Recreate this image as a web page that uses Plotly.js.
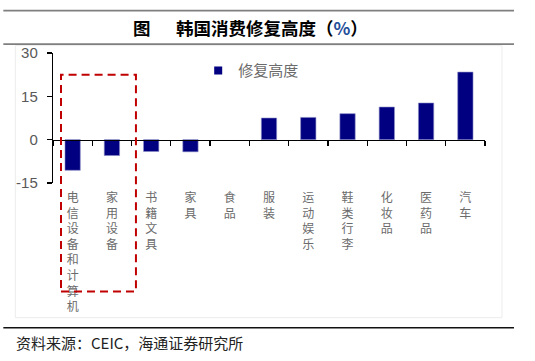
<!DOCTYPE html>
<html>
<head>
<meta charset="utf-8">
<script src="https://cdn.plot.ly/plotly-3.0.1.min.js"></script>
<style>
html,body{margin:0;padding:0;background:#fff;}
#chart{width:535px;height:361px;}
</style>
</head>
<body>
<div id="chart"></div>
<script>
const categories = ['电信设备和计算机','家用设备','书籍文具','家具','食品','服装','运动娱乐','鞋类行李','化妆品','医药品','汽车'];
const values = [-10.6,-5.5,-4.1,-4.2,0,7.5,7.7,9.0,11.3,12.7,23.4];
const yTicks = [-15,0,15,30];
const seriesName = '修复高度';
const titleText = '<b>图　&nbsp;&nbsp;韩国消费修复高度（<span style="color:#1f4e99">%</span>）</b>';
const sourceText = '资料来源：CEIC，海通证券研究所';

const vertLabels = categories.map(c => c.split('').join('<br>'));
const CJK = '"Noto Sans CJK SC", "Noto Sans", sans-serif';
const NAVY = '#000080';

const traces = [
  {
    type: 'bar', x: categories, y: values, xaxis: 'x', yaxis: 'y',
    marker: {color: NAVY, line: {color: '#8f8fc8', width: values.map(v => v === 0 ? 0 : 0.6)}},
    showlegend: false, hoverinfo: 'x+y'
  },
  {
    type: 'scatter', mode: 'markers', x: categories, y: categories.map(() => null),
    xaxis: 'x2', yaxis: 'y', showlegend: false, hoverinfo: 'skip'
  },
  {
    type: 'scatter', mode: 'markers', x: [null], y: [null], name: seriesName,
    marker: {symbol: 'square', size: 8, color: NAVY}, showlegend: true
  }
];

// plot area: left 52.7, right 485, top 53.3, bottom 183.3
const L = 52.7, R = 485, T = 53.3, B = 183.3;
const pw = R - L, ph = B - T;
const px = v => (v - L) / pw;
const py = v => (B - v) / ph;

const layout = {
  width: 535, height: 361,
  margin: {l: L, r: 535 - R, t: T, b: 361 - B, pad: 0},
  paper_bgcolor: '#fff', plot_bgcolor: 'rgba(0,0,0,0)',
  bargap: 0.61,
  title: {
    text: titleText, font: {family: CJK, size: 17.5, color: '#000'},
    x: 0.468, xanchor: 'center', xref: 'container',
    y: 1 - 29 / 361, yanchor: 'middle', yref: 'container'
  },
  xaxis: {
    type: 'category', categoryorder: 'array', categoryarray: categories,
    range: [-0.5, categories.length - 0.5],
    tickvals: categories, ticktext: vertLabels,
    showline: false, ticks: '', showgrid: false, zeroline: false,
    tickfont: {family: CJK, size: 12, color: '#6b6b6b'},
    ticklabelstandoff: 6, tickangle: 0
  },
  xaxis2: {
    type: 'category', categoryorder: 'array', categoryarray: categories,
    range: [-0.5, categories.length - 0.5],
    overlaying: 'x', anchor: 'free', position: 1 / 3, side: 'bottom',
    showline: true, linecolor: '#000', linewidth: 1.2,
    ticks: 'outside', ticklen: 5, tickwidth: 1.2, tickcolor: '#000', tickson: 'boundaries',
    showticklabels: false, showgrid: false, zeroline: false
  },
  yaxis: {
    range: [-15, 30], tickvals: yTicks, ticktext: yTicks.map(String),
    showline: true, linecolor: '#000', linewidth: 1.2,
    ticks: 'outside', ticklen: 5, tickwidth: 1.2, tickcolor: '#000',
    showgrid: false, zeroline: false,
    tickfont: {family: '"Liberation Sans", Arial, sans-serif', size: 15, color: '#595959'},
    ticklabelstandoff: 6
  },
  legend: {
    x: px(198), xanchor: 'left', y: py(71), yanchor: 'middle',
    bgcolor: 'rgba(0,0,0,0)', borderwidth: 0,
    font: {family: CJK, size: 15, color: '#6b6b6b'}
  },
  shapes: [
    {type: 'line', xref: 'paper', yref: 'paper', x0: px(3), x1: px(514), y0: py(11), y1: py(11), line: {color: '#7f7f7f', width: 1.8}},
    {type: 'line', xref: 'paper', yref: 'paper', x0: px(3), x1: px(514), y0: py(44.5), y1: py(44.5), line: {color: '#7f7f7f', width: 1.8}},
    {type: 'line', xref: 'paper', yref: 'paper', x0: px(3), x1: px(514), y0: py(328), y1: py(328), line: {color: '#111', width: 1.5}},
    {type: 'rect', xref: 'paper', yref: 'paper', x0: px(15), x1: px(502), y0: py(318), y1: py(46), line: {color: '#ececec', width: 1}},
    {type: 'rect', xref: 'paper', yref: 'paper', x0: px(60.7), x1: px(135.7), y0: py(291.7), y1: py(75), line: {color: '#c00000', width: 2, dash: '8px,5px'}}
  ],
  annotations: [
    {text: sourceText, xref: 'paper', yref: 'paper', x: px(14), y: py(343), xanchor: 'left', yanchor: 'middle', showarrow: false, font: {family: CJK, size: 15, color: '#222'}}
  ]
};

Plotly.newPlot('chart', traces, layout, {displayModeBar: false, staticPlot: true});
</script>
</body>
</html>
